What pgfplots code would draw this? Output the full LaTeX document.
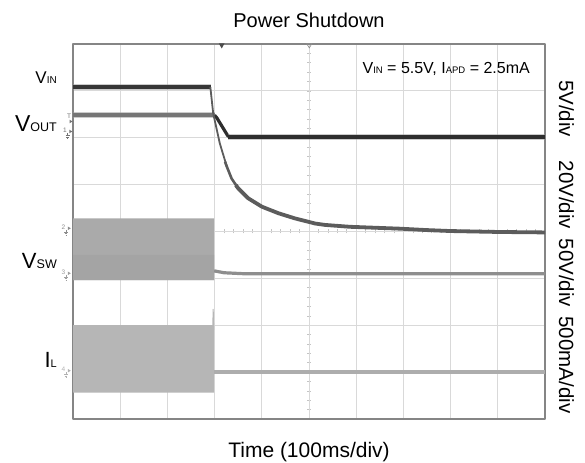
\documentclass[border=0pt]{standalone}
\usepackage{pgfplots}
\pgfplotsset{compat=1.18}
\usepackage{fontspec}
\setmainfont{Liberation Sans}
\definecolor{gridc}{HTML}{D9D9D9}
\definecolor{framec}{HTML}{858585}
\definecolor{tickc}{HTML}{C4C4C4}
\definecolor{topc}{HTML}{363636}
\definecolor{midc}{HTML}{767676}
\definecolor{flatc}{HTML}{2E2E2E}
\definecolor{expc}{HTML}{5C5C5C}
\definecolor{fuzz}{HTML}{9A9A9A}
\definecolor{swc}{HTML}{AAAAAA}
\definecolor{swd}{HTML}{A4A4A4}
\definecolor{swa}{HTML}{8E8E8E}
\definecolor{ilc}{HTML}{B6B6B6}
\definecolor{ila}{HTML}{ADADAD}
\newcommand{\fs}[1]{\fontsize{#1}{#1}\selectfont}
\newcommand{\chmark}[4]{%
  \node[font=\fs{6.5bp}, text=#4, inner sep=0pt] at (#1-5.5,#2+1) {#3};
  \fill[#4] (#1-1.2,#2+1.8) -- (#1+1.8,#2) -- (#1-1.2,#2-1.8) -- cycle;
  \draw[#4, line width=0.5bp] (#1-3,#2-1.5) -- (#1-3,#2-4) (#1-5,#2-4) -- (#1-1,#2-4)
     (#1-4.3,#2-5.3) -- (#1-1.7,#2-5.3) (#1-3.5,#2-6.5) -- (#1-2.5,#2-6.5);
}
\begin{document}
\begin{tikzpicture}[x=1bp,y=1bp]
\path[use as bounding box] (0,0) rectangle (585,463);
% center cross with small ticks
\begin{axis}[at={(73bp,44bp)}, anchor=south west, scale only axis,
  width=472bp, height=375bp, xmin=-5, xmax=5, ymin=-4, ymax=4,
  axis lines=center, axis line style={-, tickc, line width=0.8bp},
  xtick={-4.8,-4.6,...,4.8}, ytick={-3.8,-3.6,...,3.8},
  xticklabels={}, yticklabels={}, tick align=center, major tick length=4bp,
  tick style={tickc, line width=0.7bp}]
\end{axis}
\begin{axis}[at={(73bp,44bp)}, anchor=south west, scale only axis,
  width=472bp, height=375bp, xmin=0, xmax=10, ymin=0, ymax=8,
  xtick={0,...,10}, ytick={0,...,8}, xticklabels={}, yticklabels={},
  tick style={draw=none}, grid=major, grid style={gridc, line width=0.9bp},
  axis line style={framec, line width=1.2bp},
  title={Power Shutdown},
  every axis title/.style={at={(0.5,1)}, anchor=base, yshift=16.7bp, font=\fs{20bp}, inner sep=0pt},
  xlabel={Time (100ms/div)},
  every axis x label/.style={at={(0.5,0)}, anchor=base, yshift=-39bp, font=\fs{21bp}, inner sep=0pt},
  line cap=butt, line join=round]
% V_SW switching band (ch3)
\addplot[fill=swc, draw=none, forget plot] coordinates {(0,2.96) (2.99,2.96) (2.99,4.28) (0,4.28) (0,2.96)};
\addplot[fill=swd, draw=none, forget plot] coordinates {(0,2.96) (2.99,2.96) (2.99,3.50) (0,3.50) (0,2.96)};
\addplot[swa, line width=3.2bp] coordinates {(2.99,3.16) (3.2,3.12) (3.6,3.10) (5,3.10) (7,3.10) (10,3.10)};
% I_L band (ch4)
\addplot[fill=ilc, draw=none, forget plot] coordinates {(0,0.56) (2.99,0.56) (2.99,2.00) (0,2.00) (0,0.56)};
\addplot[ilc, line width=1bp, forget plot] coordinates {(2.96,1.9) (2.97,2.34) (2.98,1.9)};
\addplot[ila, line width=3.8bp] coordinates {(2.99,1.01) (5,1.01) (10,1.01)};
% ch1 trace (middle, then flat)
\addplot[fuzz, line width=5.5bp, opacity=0.5, forget plot] coordinates {(0,6.48) (3.01,6.48)};
\addplot[midc, line width=3.6bp] coordinates {(0,6.48) (3.01,6.48)};
\addplot[flatc, line width=3.2bp] coordinates {(3.00,6.48) (3.05,6.42) (3.28,6.04) (3.33,6.02)};
\addplot[fuzz, line width=6.5bp, opacity=0.5, forget plot] coordinates {(3.28,6.02) (10,6.02)};
\addplot[flatc, line width=4.6bp] coordinates {(3.28,6.02) (10,6.02)};
% ch2 trace (top, then exponential decay)
\addplot[fuzz, line width=6bp, opacity=0.5, forget plot] coordinates {(0,7.08) (2.92,7.08)};
\addplot[topc, line width=4.3bp] coordinates {(0,7.08) (2.92,7.08)};
\addplot[expc, line width=1.8bp] coordinates {(2.91,7.08) (2.97,6.52) (3.11,5.88) (3.26,5.38)};
\addplot[expc, line width=2.6bp, forget plot] coordinates {(3.22,5.49) (3.26,5.38) (3.36,5.13) (3.50,4.92)};
\addplot[expc, line width=3.8bp, forget plot] coordinates {(3.45,4.99) (3.50,4.92) (3.71,4.71) (4.00,4.53) (4.35,4.39) (4.70,4.28) (5.13,4.17) (5.34,4.14) (5.87,4.10) (6.40,4.08) (6.93,4.06) (7.50,4.03) (7.99,4.01) (9.00,3.99) (10,3.98)};
\end{axis}
% trigger / position markers on top edge
\fill[black!70] (218.9,419.5) -- (224.5,419.5) -- (221.7,414.5) -- cycle;
\draw[black!45, line width=0.6bp] (306.6,419.5) -- (312,419.5) -- (309.3,415) -- cycle;
% channel markers
\node[font=\fs{6.5bp}, text=black!55, inner sep=0pt] at (69,346.5) {T};
\fill[black!55] (69.5,343.3) -- (72.5,341.5) -- (69.5,339.7) -- cycle;
\chmark{70.5}{331.5}{1}{black!55}
\chmark{69}{234.7}{2}{black!45}
\chmark{69}{189.7}{3}{black!38}
\chmark{69}{92.3}{4}{black!30}
% annotation
\node[anchor=base east, inner sep=0pt, font=\fs{16bp}] at (530,389.7)
  {V{\fs{9.5bp}IN} = 5.5V, I{\fs{9.5bp}APD} = 2.5mA};
% trace labels
\node[anchor=base east, inner sep=0pt, font=\fs{17bp}] at (57,379) {V{\fs{10bp}IN}};
\node[anchor=base east, inner sep=0pt, font=\fs{23bp}] at (57,331.3) {V{\fs{12.5bp}OUT}};
\node[anchor=base east, inner sep=0pt, font=\fs{22bp}] at (57,194) {V{\fs{12.5bp}SW}};
\node[anchor=base east, inner sep=0pt, font=\fs{22bp}] at (57,95) {I{\fs{11bp}L}};
% scale labels on the right
\node[rotate=-90, inner sep=0pt, font=\fs{20.5bp}] at (566.5,354.5) {5V/div};
\node[rotate=-90, inner sep=0pt, font=\fs{20.5bp}] at (566.5,268) {20V/div};
\node[rotate=-90, inner sep=0pt, font=\fs{20.5bp}] at (566.5,190) {50V/div};
\node[rotate=-90, inner sep=0pt, font=\fs{20.5bp}] at (566.5,98) {500mA/div};
\end{tikzpicture}
\end{document}
